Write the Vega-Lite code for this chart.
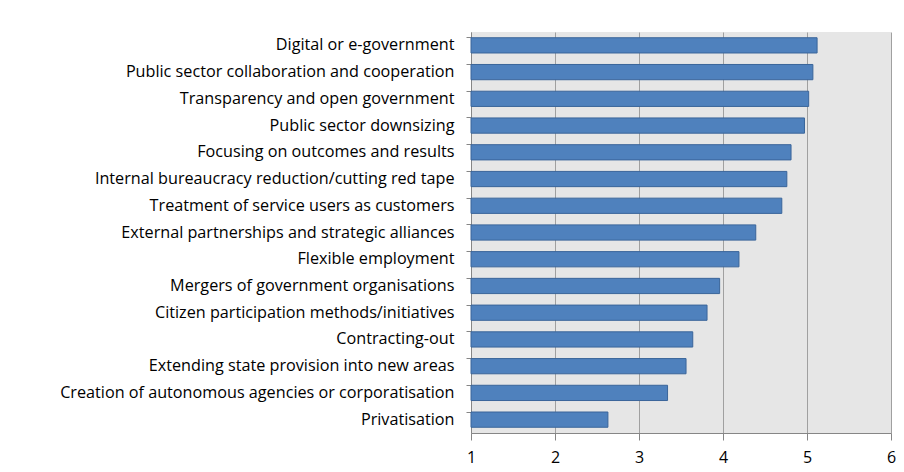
{
  "$schema": "https://vega.github.io/schema/vega-lite/v6.json",
  "width": 420,
  "height": 401,
  "autosize": {"type": "none"},
  "padding": {"left": 471, "top": 32, "right": 13, "bottom": 39},
  "background": "white",
  "config": {
    "view": {"fill": "#e6e6e6", "stroke": null},
    "font": "Open Sans"
  },
  "data": {
    "values": [
      {"item": "Digital or e-government", "score": 5.12},
      {"item": "Public sector collaboration and cooperation", "score": 5.07},
      {"item": "Transparency and open government", "score": 5.02},
      {"item": "Public sector downsizing", "score": 4.97},
      {"item": "Focusing on outcomes and results", "score": 4.81},
      {"item": "Internal bureaucracy reduction/cutting red tape", "score": 4.76},
      {"item": "Treatment of service users as customers", "score": 4.70},
      {"item": "External partnerships and strategic alliances", "score": 4.39},
      {"item": "Flexible employment", "score": 4.19},
      {"item": "Mergers of government organisations", "score": 3.96},
      {"item": "Citizen participation methods/initiatives", "score": 3.81},
      {"item": "Contracting-out", "score": 3.64},
      {"item": "Extending state provision into new areas", "score": 3.56},
      {"item": "Creation of autonomous agencies or corporatisation", "score": 3.34},
      {"item": "Privatisation", "score": 2.63}
    ]
  },
  "mark": {"type": "bar", "fill": "#4f81bd", "stroke": "#3a659a", "strokeWidth": 1},
  "encoding": {
    "y": {
      "field": "item",
      "type": "nominal",
      "sort": null,
      "title": null,
      "scale": {"paddingInner": 0.43, "paddingOuter": 0.215},
      "axis": {
        "bandPosition": 0,
        "tickSize": 5,
        "tickColor": "#868686",
        "domainColor": "#868686",
        "labelFontSize": 16.2,
        "labelColor": "#000000",
        "labelPadding": 12,
        "labelLimit": 460,
        "grid": false
      }
    },
    "x": {
      "field": "score",
      "type": "quantitative",
      "title": null,
      "scale": {"domain": [1, 6], "nice": false, "zero": false},
      "axis": {
        "values": [1, 2, 3, 4, 5, 6],
        "format": "d",
        "tickSize": 7,
        "tickColor": "#868686",
        "domainColor": "#868686",
        "gridColor": "#a0a0a0",
        "labelFontSize": 16,
        "labelColor": "#000000",
        "labelPadding": 9,
        "labelFlush": false
      }
    },
    "x2": {"datum": 1}
  }
}
